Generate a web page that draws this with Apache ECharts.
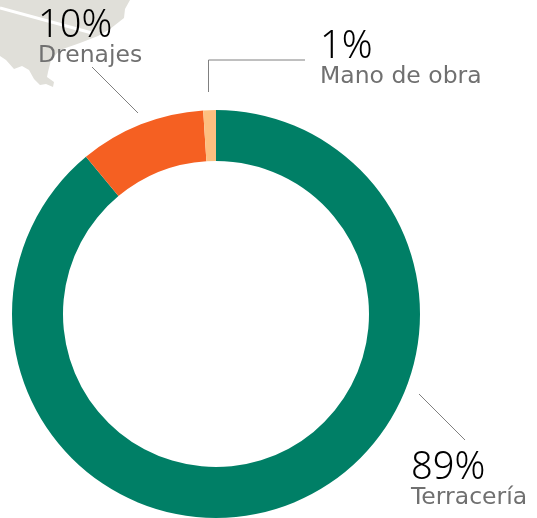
<!DOCTYPE html>
<html><head><meta charset="utf-8">
<style>html,body{margin:0;padding:0;background:#fff}#c{width:537px;height:518px}</style>
<script src="https://cdn.jsdelivr.net/npm/echarts@6/dist/echarts.min.js"></script>
</head><body><div id="c"></div>
<script>
const categories = ['Terracería', 'Drenajes', 'Mano de obra'];
const values = [89, 10, 1];
const colors = ['#007F66', '#F56022', '#FDBF80'];
const labelPos = [[411, 450], [38, 8], [320, 29]];
const leaders = [
  [[419, 394], [465, 440]],
  [[92, 67], [138, 113]],
  [[305, 60], [208.5, 60], [208.5, 92]]
];
const mapShape = [[0,0],[130,0],[125,9],[124,18],[110,29],[98,36],[80,43],[60,50],[51,60],[48,72],[47,77],[54,82],[53,87],[46,84],[40,85],[34,79],[29,70],[22,66],[14,69],[6,60],[0,56]];
const chart = echarts.init(document.getElementById('c'));
const font = '"Noto Sans"';
chart.setOption({
  animation: false,
  graphic: [
    {type:'polygon', z:0, shape:{points:mapShape}, style:{fill:'#E0DFD9'}},
    {type:'line', z:0, shape:{x1:0,y1:8,x2:92,y2:33}, style:{stroke:'#fff',lineWidth:3}},
    ...leaders.map(p=>({type:'polyline', z:5, shape:{points:p}, style:{stroke:'#808080',lineWidth:1,fill:null}}))
  ],
  series: [{
    type:'pie', center:[216,314], radius:[153,204], startAngle:90, clockwise:true,
    silent:true, z:2,
    data: categories.map((n,i)=>({name:n,value:values[i],itemStyle:{color:colors[i]}})),
    labelLine:{show:false},
    label:{show:true, position:'outside', alignTo:'none', width:240, overflow:'none',
      formatter:p=>`{v|${p.value}%}\n{n|${p.name}}`,
      rich:{
        v:{fontFamily:font,fontWeight:300,fontSize:38,lineHeight:36,color:'#000',align:'left'},
        n:{fontFamily:'"DejaVu Sans"',fontSize:23.5,lineHeight:24,color:'#707070',align:'left'}
      }},
    labelLayout:p=>({x:labelPos[p.dataIndex][0],y:labelPos[p.dataIndex][1],align:'left',verticalAlign:'top',hideOverlap:false})
  }]
});
</script></body></html>
